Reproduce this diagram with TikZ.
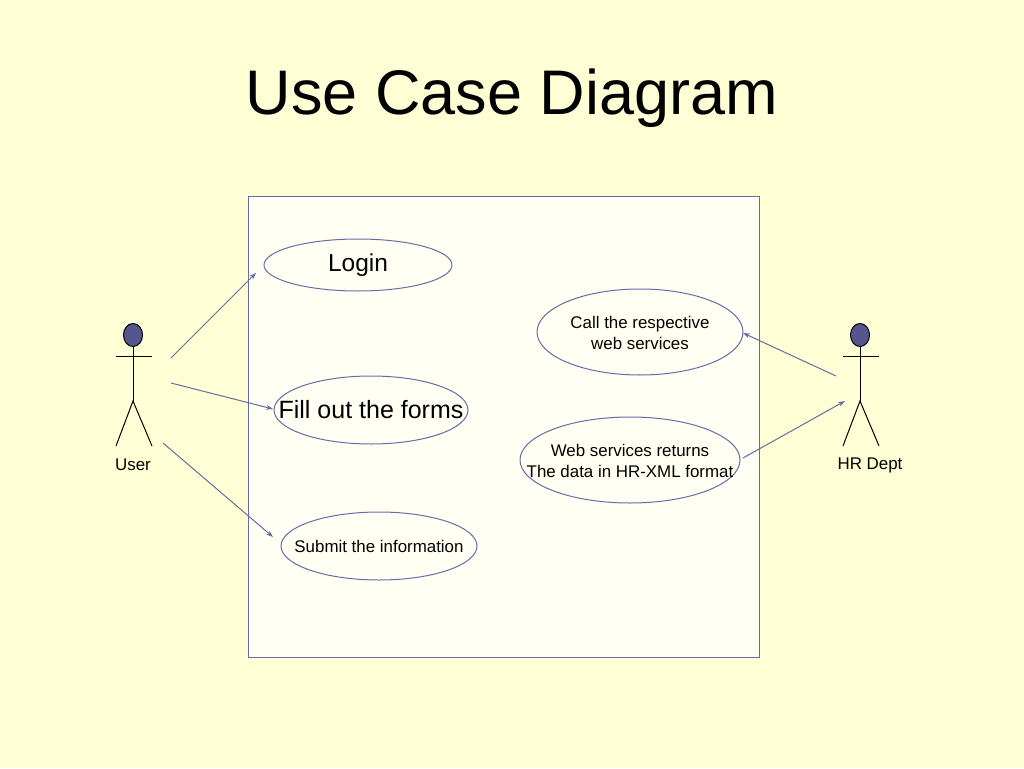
\documentclass[tikz,border=0pt]{standalone}
\usepackage{fontspec}
\setmainfont{Liberation Sans}
\usetikzlibrary{arrows.meta}
\definecolor{bg}{HTML}{FFFFD5}
\definecolor{inner}{HTML}{FFFFF3}
\definecolor{ln}{HTML}{6A6AA8}
\definecolor{head}{HTML}{55558F}
\begin{document}
\begin{tikzpicture}[x=1pt,y=-1pt,line width=1pt,
  conn/.style={draw=ln,-{Stealth[length=7pt,width=5pt]}},
  small/.style={font=\fontsize{16.9}{20.5}\selectfont},
  big/.style={font=\fontsize{25}{30}\selectfont}]
\fill[bg] (0,0) rectangle (1024,768);
\useasboundingbox (0,0) rectangle (1024,768);
\node (title) at (512,98) {\fontsize{63}{72}\selectfont Use Case Diagram};
\draw[ln,fill=inner] (248,196) rectangle (759,657);
\draw[ln] (358,265) ellipse (94 and 26);
\node[font=\fontsize{24.5}{30}\selectfont] (login) at (358,265) {Login};
\draw[ln] (371,410) ellipse (97 and 34);
\node[big] (fill) at (371,410) {Fill out the forms};
\draw[ln] (379,546) ellipse (98 and 34);
\node[small] (submit) at (379,546) {Submit the information};
\draw[ln] (640,332) ellipse (103 and 43);
\node[small,align=center] (call) at (640,333) {Call the respective\\ web services};
\draw[ln] (630,460) ellipse (110 and 43);
\node[small,align=center] (ret) at (630,461) {Web services returns\\The data in HR-XML format};
% actors
\foreach \cx/\nm in {133/user,860/hr}{
  \fill[head] (\cx,335) circle[x radius=9.5,y radius=11.5];
  \draw (\cx,335) ellipse (9.5 and 11.5);
  \draw (\cx,346.5) -- (\cx,401);
  \draw (\cx-17,356) -- (\cx+19,356);
  \draw (\cx-17,446) -- (\cx,401) -- (\cx+19,446);
}
\node[small] (userl) at (133,465) {User};
\node[small] (hrl) at (870,465) {HR Dept};
\coordinate (u1) at (171,358); \coordinate (u1e) at (256,273);
\coordinate (u2) at (171,383); \coordinate (u2e) at (273,409);
\coordinate (u3) at (163,443); \coordinate (u3e) at (273,537);
\coordinate (h1) at (836,376); \coordinate (h1e) at (743,333);
\coordinate (h2) at (743,458); \coordinate (h2e) at (845,401);
\draw[conn] (u1) -- (u1e);
\draw[conn] (u2) -- (u2e);
\draw[conn] (u3) -- (u3e);
\draw[conn] (h1) -- (h1e);
\draw[conn] (h2) -- (h2e);
\end{tikzpicture}
\end{document}
